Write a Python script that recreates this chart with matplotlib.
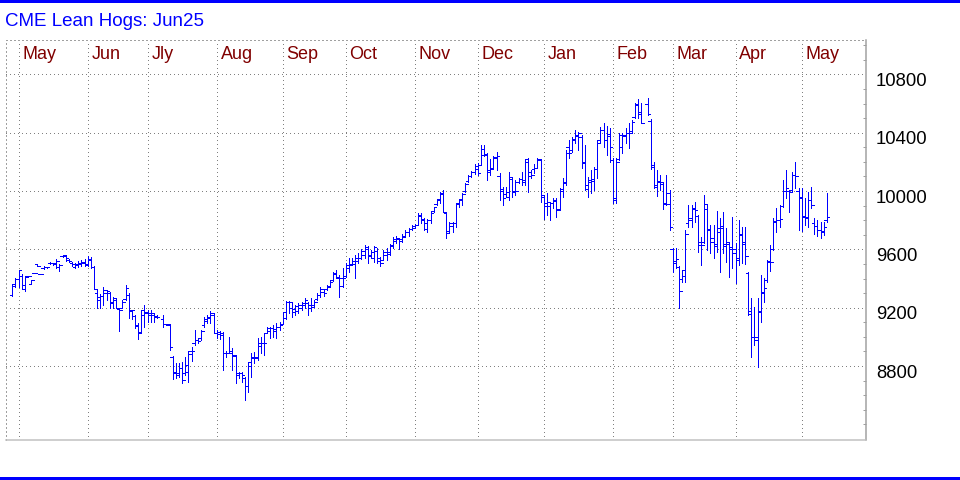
import numpy as np
import matplotlib
matplotlib.use('Agg')
import matplotlib.pyplot as plt
from matplotlib.patches import Rectangle
from matplotlib.transforms import blended_transform_factory

nan = np.nan

title = 'CME Lean Hogs: Jun25'
month_names = ['May', 'Jun', 'Jly', 'Aug', 'Sep', 'Oct', 'Nov', 'Dec', 'Jan', 'Feb', 'Mar', 'Apr', 'May']
month_start = [2, 24, 43, 65, 86, 106, 128, 148, 169, 191, 210, 230, 251]  # bar index of 1st trading day
price_ticks = [8800, 9200, 9600, 10000, 10400, 10800]

# daily bars, one line per month (first two are the end of Apr 24)
opens = [
    9290, 9350,
    9400, 9420, 9330, 9418, 9365, 9438, 9500, 9430, 9470, 9477, 9505,
    9505, 9510, 9480, 9552, 9555, 9530, 9510, 9480, 9500, 9500, 9510,
    9500, 9530, 9480, 9300, 9250, 9280, 9300, 9300, 9230, 9250,
    9190, 9200, 9260, 9290, 9180, 9140, 9080, 9030, 9150,
    9170, 9150, 9150, 9140, nan, 9120, 9086, 9080, 8860, 8760, 8740,
    8790, 8750, 8760, 8880, 8960, 8980, 8990, 9080, 9110, 9130, 9150,
    9030, 9020, 9030, 8890, 8890, 8900, 8870, 8740, 8750, 8720, 8660,
    8800, 8860, 8860, 8940, 8960, 9030, 9040, 9060, 9040, 9070,
    9090, 9130, 9240, 9200, 9170, 9180, 9200, 9220, 9230, 9200,
    9220, 9260, 9290, 9310, 9330, 9350, 9390, 9440, 9410, 9350,
    9420, 9470, 9500, 9500, 9520, 9540, 9560, 9600, 9560, 9540, 9590,
    9520, 9530, 9560, 9570, 9620, 9660, 9670, 9660, 9690, 9720, 9740,
    9750, 9770, 9830, 9800, 9740, 9800, 9860, 9910, 9940, 9990,
    9850, 9725, 9760, 9780, 9910, 9940, 10000, 10070, 10100, 10130,
    10150, 10180, 10290, 10250, 10130, 10160, 10230, 10100, 10000, 9980, 9960,
    10080, 10000, 10060, 10080, 10060, 10200, 10100, 10150, 10160, 10210,
    9960, 9900, 9900, 9920, 9930, 9880, 10000, 10060, 10300, 10280, 10350,
    10380, 10370, 10200, 10040, 10060, 10080, 10150, 10350, 10420, 10350, 10380,
    10210, 9950, 10220, 10300, 10380, 10400, 10410, 10510, 10590, 10540,
    nan, 10600, 10480, 10180, 10040, 10070, 10050, 9920, 9990,
    9600, 9520, 9480, 9400, 9420, 9780, 9800, 9880, 9830, 9650,
    9650, 9880, 9740, 9680, 9640, 9720, 9760, 9640, 9640, 9600,
    9600, 9540, 9700, 9640, 9440, 9180, 9000, 9000, 9180, 9300, 9390,
    9520, 9600, 9790, 9800, 9900, 10000, 10000, 10010, 10110, 10000,
    9960, 9830, 9820, 9940, 9780, 9760, 9730, 9720, 9800,
]

highs = [
    9360, 9401,
    9459, 9429, 9420, 9420, 9390, 9440, 9500, 9431, 9486, 9480, 9516,
    9509, 9532, 9500, 9564, 9561, 9534, 9516, 9504, 9523, 9530, 9534,
    9557, 9550, 9488, 9328, 9292, 9344, 9321, 9310, 9271, 9264,
    9200, 9253, 9356, 9299, 9184, 9150, 9093, 9184, 9219,
    9184, 9184, 9166, 9150, nan, 9150, 9090, 9088, 8869, 8819, 8819,
    8830, 8864, 8906, 8933, 9047, 8990, 9047, 9139, 9150, 9180, 9162,
    9047, 9040, 9036, 8900, 9002, 8922, 8876, 8761, 8761, 8727, 8830,
    8887, 8899, 8990, 9002, 9024, 9070, 9070, 9082, 9093, 9104,
    9173, 9246, 9246, 9230, 9218, 9230, 9237, 9264, 9240, 9264,
    9253, 9298, 9344, 9321, 9356, 9390, 9447, 9458, 9424, 9470,
    9504, 9538, 9538, 9561, 9572, 9600, 9630, 9623, 9595, 9623, 9607,
    9550, 9595, 9607, 9636, 9682, 9691, 9675, 9709, 9732, 9750, 9767,
    9775, 9847, 9847, 9812, 9806, 9858, 9892, 9949, 9995, 10007,
    9858, 9790, 9790, 9915, 9949, 9988, 10052, 10110, 10139, 10185,
    10190, 10316, 10316, 10258, 10217, 10240, 10270, 10121, 10030, 10030, 10133,
    10098, 10076, 10087, 10133, 10217, 10224, 10144, 10185, 10224, 10217,
    9973, 9989, 9927, 9950, 9950, 10018, 10087, 10281, 10350, 10373, 10418,
    10407, 10384, 10316, 10099, 10144, 10167, 10350, 10441, 10464, 10446, 10430,
    10224, 10224, 10396, 10396, 10430, 10464, 10487, 10601, 10629, 10601,
    nan, 10636, 10492, 10201, 10144, 10110, 10057, 10110, 10007,
    9607, 9607, 9486, 9459, 9733, 9904, 9904, 9927, 9836, 9687,
    9973, 9904, 9767, 9767, 9863, 9813, 9858, 9749, 9653, 9824,
    9641, 9801, 9755, 9755, 9447, 9264, 9207, 9264, 9424, 9401, 9527,
    9630, 9813, 9881, 9904, 10075, 10144, 10007, 10133, 10197, 10018,
    10018, 9950, 9995, 10030, 9813, 9801, 9790, 9790, 9984,
]

lows = [
    9283, 9344,
    9344, 9333, 9317, 9414, 9360, 9436, 9484, 9428, 9463, 9474, 9500,
    9493, 9470, 9454, 9550, 9520, 9511, 9488, 9470, 9482, 9488, 9488,
    9488, 9470, 9328, 9196, 9196, 9219, 9253, 9196, 9196, 9196,
    9040, 9196, 9253, 9130, 9120, 9059, 8983, 9024, 9070,
    9104, 9104, 9104, 9127, nan, 9070, 9080, 8910, 8709, 8716, 8727,
    8686, 8739, 8693, 8837, 8944, 8956, 8979, 9070, 9093, 9093, 9024,
    8990, 8985, 8773, 8860, 8887, 8773, 8686, 8716, 8693, 8567, 8624,
    8727, 8819, 8842, 8887, 8876, 9024, 8990, 9002, 8990, 9047,
    9086, 9122, 9161, 9138, 9150, 9161, 9184, 9196, 9150, 9176,
    9207, 9253, 9276, 9282, 9321, 9344, 9385, 9401, 9276, 9344,
    9410, 9447, 9492, 9401, 9504, 9531, 9538, 9504, 9550, 9515, 9504,
    9486, 9527, 9527, 9561, 9607, 9641, 9600, 9652, 9682, 9691, 9732,
    9745, 9767, 9778, 9732, 9721, 9783, 9858, 9904, 9915, 9858,
    9675, 9721, 9721, 9755, 9892, 9904, 9995, 10064, 10098, 10120,
    10110, 10178, 10240, 10076, 10110, 10156, 10144, 9938, 9904, 9961, 9938,
    9961, 9973, 10057, 10041, 10041, 9995, 10087, 10121, 10156, 9927,
    9806, 9836, 9801, 9881, 9824, 9870, 9961, 10041, 10224, 10270, 10327,
    10281, 10156, 10007, 9962, 9984, 10007, 10087, 10339, 10304, 10247, 10201,
    9916, 9916, 10213, 10259, 10332, 10293, 10396, 10499, 10499, 10464,
    nan, 10521, 10149, 10019, 9966, 10007, 9875, 9904, 9733,
    9447, 9470, 9196, 9379, 9379, 9756, 9756, 9790, 9584, 9493,
    9641, 9595, 9573, 9538, 9584, 9447, 9573, 9516, 9413, 9470,
    9367, 9493, 9504, 9497, 9150, 8864, 8944, 8795, 9104, 9241, 9378,
    9452, 9595, 9717, 9755, 9893, 9954, 9858, 9995, 10023, 9733,
    9726, 9767, 9755, 9881, 9703, 9694, 9676, 9698, 9785,
]

closes = [
    9360, 9400,
    9459, 9356, 9413, 9418, 9390, 9438, 9486, 9430, 9477, 9477, 9509,
    9500, 9520, 9493, 9559, 9543, 9523, 9497, 9493, 9509, 9516, 9493,
    9534, 9481, 9328, 9276, 9283, 9321, 9315, 9237, 9264, 9196,
    9184, 9237, 9333, 9184, 9184, 9075, 9031, 9184, 9161,
    9161, 9161, 9134, 9134, nan, 9086, 9086, 8933, 8755, 8750, 8785,
    8704, 8807, 8906, 8906, 8979, 8974, 9040, 9120, 9139, 9162, 9024,
    9036, 9013, 8887, 8887, 8890, 8876, 8755, 8755, 8740, 8665, 8830,
    8853, 8853, 8956, 8956, 8956, 9059, 9059, 9052, 9070, 9082,
    9168, 9237, 9237, 9191, 9212, 9218, 9230, 9253, 9218, 9207,
    9237, 9287, 9328, 9298, 9344, 9378, 9429, 9406, 9406, 9406,
    9493, 9492, 9520, 9538, 9538, 9591, 9618, 9554, 9584, 9618, 9538,
    9504, 9584, 9584, 9630, 9668, 9675, 9668, 9682, 9721, 9737, 9760,
    9765, 9835, 9806, 9783, 9801, 9847, 9888, 9943, 9979, 9858,
    9710, 9783, 9783, 9915, 9943, 9979, 10048, 10103, 10132, 10170,
    10126, 10247, 10252, 10144, 10149, 10236, 10240, 10012, 9950, 9996, 10098,
    9996, 10002, 10080, 10076, 10217, 10133, 10110, 10156, 10217, 9973,
    9920, 9927, 9920, 9938, 9870, 10011, 10053, 10258, 10263, 10354, 10384,
    10396, 10190, 10012, 10076, 10071, 10149, 10332, 10419, 10350, 10391, 10304,
    9939, 10201, 10384, 10384, 10396, 10396, 10476, 10597, 10528, 10464,
    nan, 10526, 10167, 10030, 10064, 10064, 9909, 9909, 9756,
    9504, 9532, 9315, 9459, 9705, 9813, 9881, 9870, 9630, 9630,
    9909, 9733, 9648, 9625, 9744, 9744, 9625, 9653, 9618, 9573,
    9527, 9703, 9648, 9557, 9154, 9001, 8978, 9173, 9310, 9333, 9515,
    9515, 9794, 9799, 9808, 10000, 10023, 9995, 10110, 10105, 9950,
    9824, 9817, 9938, 9904, 9762, 9733, 9726, 9755, 9824,
]

BLUE = '#0000ff'
GRID = '#808080'
px = 0.72  # one pixel in points at dpi 100

plt.rcParams['font.family'] = ['Liberation Sans', 'DejaVu Sans']

fig = plt.figure(figsize=(9.6, 4.8), dpi=100)
ax = fig.add_axes([5.5 / 960, 40 / 480, 860 / 960, 400 / 480])

o = np.array(opens, dtype=float)
h = np.array(highs, dtype=float)
l = np.array(lows, dtype=float)
c = np.array(closes, dtype=float)
x = np.arange(len(c))
ok = ~np.isnan(c)

# OHLC bars, 1px wide
ax.vlines(x[ok], l[ok], h[ok], color=BLUE, lw=px, antialiased=False, zorder=3)
ax.hlines(o[ok], x[ok] - 0.8, x[ok], color=BLUE, lw=px, antialiased=False, zorder=3)
ax.hlines(c[ok], x[ok], x[ok] + 0.8, color=BLUE, lw=px, antialiased=False, zorder=3)

ax.set_xlim(-2.16, 271.3)
ax.set_ylim(8293, 11036)

# dotted grid: 1px dot every 3px
dots = (0, (1, 3))
ax.set_xticks(month_start)
ax.set_yticks(price_ticks)
ax.grid(True, color=GRID, linestyle=dots, lw=px, antialiased=False)
ax.set_axisbelow(True)
ax.set_yticks(np.arange(8400, 11001, 100), minor=True)
ax.yaxis.set_ticks_position('right')
ax.tick_params(axis='x', length=0, labelbottom=False)
ax.tick_params(axis='y', which='both', labelleft=False, labelright=False)
ax.tick_params(axis='y', which='major', length=0)
ax.tick_params(axis='y', which='minor', direction='in', length=3 * px, width=px, color='#a0a0a0')

# frame
for side in ['left', 'top']:
    ax.spines[side].set_linestyle(dots)
    ax.spines[side].set_color('#a0a0a0')
    ax.spines[side].set_linewidth(px)
ax.spines['right'].set_color('#a0a0a0')
ax.spines['right'].set_linewidth(px * 1.5)
ax.spines['bottom'].set_color('#c0c0c0')
ax.spines['bottom'].set_linewidth(px * 1.5)

# month labels
tr = blended_transform_factory(ax.transData, ax.transAxes)
for m, name in zip(month_start, month_names):
    ax.text(m + 1.2, 0.963, name, transform=tr, color='#800000', fontsize=13,
            ha='left', va='center')

# price labels on the right, sitting just below their grid line
tr2 = blended_transform_factory(ax.transAxes, ax.transData)
for p in price_ticks:
    ax.annotate(str(p), xy=(1, p), xycoords=tr2, xytext=(7.5, -5), textcoords='offset points',
                fontsize=13.3, color='black', ha='left', va='center')

fig.text(5 / 960, 1 - 21 / 480, title, color=BLUE, fontsize=13.5, ha='left', va='center')

# blue bands top and bottom
fig.patches.append(Rectangle((0, 1 - 3 / 480), 1, 3 / 480, transform=fig.transFigure,
                             facecolor=BLUE, edgecolor='none'))
fig.patches.append(Rectangle((0, 0), 1, 3 / 480, transform=fig.transFigure,
                             facecolor=BLUE, edgecolor='none'))

fig.savefig('out.png', dpi=100)
